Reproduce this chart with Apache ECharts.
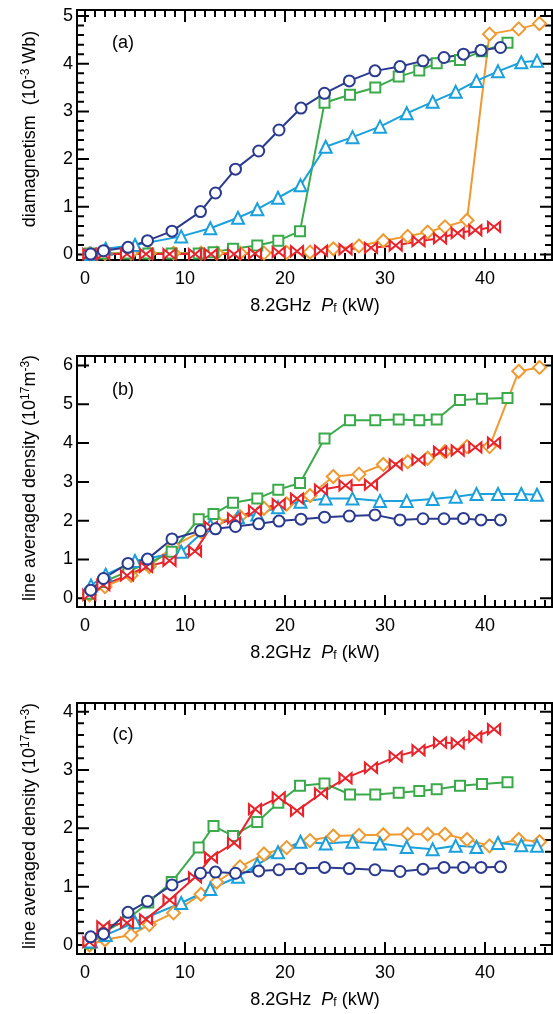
<!DOCTYPE html>
<html><head><meta charset="utf-8">
<script src="https://cdn.jsdelivr.net/npm/echarts@6/dist/echarts.min.js"></script>
<style>html,body{margin:0;padding:0;background:#fff}#c{width:553px;height:1014px}</style>
</head><body><div id="c"></div>
<script>
// ---------- data ----------
const xTickLabels = [0, 10, 20, 30, 40];
const yTicksA = [0, 1, 2, 3, 4, 5];
const yTicksB = [0, 1, 2, 3, 4, 5, 6];
const yTicksC = [0, 1, 2, 3, 4];

const navyX = [0.57,1.85,4.3,6.25,8.7,11.55,13.05,15.05,17.37,19.4,21.6,23.95,26.43,29.0,31.5,33.8,35.9,37.85,39.6,41.55];
const navyA = [0.01,0.08,0.15,0.29,0.49,0.90,1.29,1.79,2.17,2.61,3.07,3.38,3.64,3.85,3.94,4.06,4.13,4.20,4.28,4.34];
const navyB = [0.21,0.51,0.90,1.01,1.53,1.74,1.79,1.85,1.92,1.99,2.04,2.09,2.12,2.15,2.02,2.05,2.05,2.06,2.02,2.02];
const navyC = [0.14,0.19,0.56,0.75,1.03,1.23,1.25,1.23,1.27,1.29,1.31,1.33,1.31,1.29,1.26,1.30,1.33,1.33,1.33,1.34];

const greenX = [0.5,1.85,4.33,6.33,8.67,11.37,12.85,14.8,17.23,19.33,21.5,23.95,26.5,29.03,31.37,33.43,35.17,37.5,39.7,42.25];
const greenA = [0.02,0.02,0.02,0.02,0.02,0.02,0.05,0.12,0.19,0.29,0.49,3.18,3.35,3.50,3.73,3.86,4.01,4.08,4.26,4.44];
const greenB = [0.12,0.42,0.70,0.90,1.20,2.04,2.17,2.46,2.57,2.80,2.97,4.12,4.59,4.59,4.61,4.59,4.61,5.11,5.14,5.16];
const greenC = [0.03,0.22,0.45,0.73,1.08,1.67,2.04,1.87,2.11,2.44,2.73,2.77,2.58,2.58,2.61,2.64,2.67,2.73,2.76,2.79];

const cyanX = [0.6,2.07,5.0,9.62,12.53,15.3,17.23,19.3,21.55,24.07,26.75,29.5,32.17,34.77,37.07,39.15,41.3,43.63,45.2];
const cyanA = [0.01,0.12,0.20,0.38,0.55,0.77,0.95,1.19,1.45,2.26,2.46,2.68,2.96,3.20,3.41,3.64,3.84,4.03,4.06];
const cyanB = [0.33,0.61,0.96,1.20,1.88,2.09,2.16,2.35,2.49,2.57,2.57,2.51,2.51,2.56,2.62,2.69,2.69,2.69,2.67];
const cyanC = [0.06,0.17,0.39,0.72,0.96,1.17,1.38,1.59,1.77,1.74,1.77,1.74,1.68,1.64,1.70,1.68,1.75,1.71,1.70];

const orangeX = [0.45,2.0,4.6,6.43,8.85,11.6,13.17,15.5,17.9,20.17,22.5,24.83,27.4,29.83,32.27,34.27,36.0,38.2,40.45,43.37,45.45];
const orangeA = [0.02,0.02,0.03,0.03,0.03,0.03,0.03,0.03,0.03,0.04,0.05,0.12,0.18,0.29,0.38,0.47,0.58,0.72,4.62,4.73,4.84];
const orangeB = [0.09,0.30,0.59,0.82,1.35,1.72,1.98,2.11,2.32,2.43,2.65,3.14,3.20,3.45,3.52,3.61,3.78,3.91,3.91,5.85,5.95];
const orangeC = [0.0,0.09,0.17,0.35,0.55,0.87,1.08,1.34,1.56,1.67,1.79,1.87,1.88,1.89,1.90,1.90,1.90,1.81,1.70,1.81,1.77];

const redX = [0.43,1.83,4.2,6.1,8.45,11.0,12.6,14.9,17.0,19.37,21.2,23.6,26.05,28.6,31.07,33.35,35.5,37.27,39.03,40.9];
const redA = [0.01,0.01,0.01,0.01,0.01,0.01,0.01,0.01,0.02,0.05,0.07,0.08,0.11,0.14,0.19,0.28,0.34,0.45,0.51,0.58];
const redB = [0.09,0.34,0.59,0.81,0.97,1.21,1.84,2.06,2.26,2.43,2.57,2.80,2.91,2.93,3.45,3.57,3.78,3.81,3.89,4.01];
const redC = [0.05,0.32,0.38,0.44,0.77,1.16,1.50,1.75,2.33,2.53,2.30,2.60,2.86,3.04,3.23,3.34,3.47,3.46,3.57,3.70];

// ---------- styling / layout ----------
const FONT = '"Liberation Sans", Arial, sans-serif';
const COL = {navy:'#2a3a8f', green:'#3aaa4b', cyan:'#1aa0dc', orange:'#ef9a30', red:'#e8232b'};
const BOWTIE = 'path://M0,0L5,5L0,10ZM10,0L5,5L10,10Z';

const GRID_LEFT = 77, GRID_W = 475;
const grids = [
  {top: 10, height: 250, ymin: -0.115, ymax: 5.126, yMajor: yTicksA, yMinorStep: 0.2},
  {top: 356, height: 251, ymin: -0.224, ymax: 6.245, yMajor: yTicksB, yMinorStep: 0},
  {top: 703, height: 251, ymin: -0.154, ymax: 4.149, yMajor: yTicksC, yMinorStep: 0.2}
];
const XMIN = -0.8, XMAX = 46.7;
const TMAJ = 12, TMIN = 7;   // tick lengths in px

function stepList(a, b, step) { const r = []; for (let v = a; v <= b + 1e-9; v += step) r.push(+v.toFixed(4)); return r; }
function withoutMajor(arr, major) { return arr.filter(v => !major.some(m => Math.abs(m - v) < 1e-6)); }
const xMinorTicks = withoutMajor(stepList(0, 46, 1), xTickLabels);

const xAxes = [], yAxes = [], series = [];
grids.forEach((g, gi) => {
  xAxes.push({type: 'value', gridIndex: gi, min: XMIN, max: XMAX, position: 'bottom',
    splitLine: {show: false}, axisLine: {show: false}, axisTick: {show: false},
    axisLabel: {show: true, customValues: xTickLabels, fontSize: 18, color: '#000', fontFamily: FONT, margin: 10}});
  yAxes.push({type: 'value', gridIndex: gi, min: g.ymin, max: g.ymax, position: 'left',
    splitLine: {show: false}, axisLine: {show: false}, axisTick: {show: false},
    axisLabel: {show: true, customValues: g.yMajor, fontSize: 18, color: '#000', fontFamily: FONT, margin: 4}});

  // inward tick marks on all four sides, as short segments in data space
  const ux = (XMAX - XMIN) / GRID_W;            // data units per px (x)
  const uy = (g.ymax - g.ymin) / g.height;      // data units per px (y)
  const yMinor = g.yMinorStep ? withoutMajor(stepList(0, g.ymax, g.yMinorStep), g.yMajor) : [];
  const segs = [];
  const xt = xTickLabels.map(v => [v, TMAJ]).concat(xMinorTicks.map(v => [v, TMIN]));
  const yt = g.yMajor.map(v => [v, TMAJ]).concat(yMinor.map(v => [v, TMIN]));
  xt.forEach(([v, len]) => {
    segs.push([v, g.ymin], [v, g.ymin + len * uy], [v, '-']);
    segs.push([v, g.ymax], [v, g.ymax - len * uy], [v, '-']);
  });
  yt.forEach(([v, len]) => {
    segs.push([XMIN, v], [XMIN + len * ux, v], [XMIN, '-']);
    segs.push([XMAX, v], [XMAX - len * ux, v], [XMAX, '-']);
  });
  series.push({
    type: 'line', xAxisIndex: gi, yAxisIndex: gi, data: segs, symbol: 'none',
    connectNulls: false, clip: false, silent: true, z: 1,
    lineStyle: {color: '#000', width: 2, cap: 'butt'}, emphasis: {disabled: true}, animation: false
  });
});

function mk(xs, ys, gi, color, symbol, size) {
  return {
    type: 'line', xAxisIndex: gi, yAxisIndex: gi,
    data: xs.map((x, i) => [x, ys[i]]),
    symbol: symbol, symbolSize: size, showSymbol: true, z: 3,
    lineStyle: {color: color, width: 2},
    itemStyle: {color: '#fff', borderColor: color, borderWidth: 2},
    emphasis: {disabled: true}, animation: false
  };
}
const sets = [
  [orangeX, [orangeA, orangeB, orangeC], COL.orange, 'diamond', 13],
  [greenX, [greenA, greenB, greenC], COL.green, 'rect', 10],
  [cyanX, [cyanA, cyanB, cyanC], COL.cyan, 'triangle', 12],
  [redX, [redA, redB, redC], COL.red, BOWTIE, [12, 10]],
  [navyX, [navyA, navyB, navyC], COL.navy, 'circle', 11]
];
[0, 1, 2].forEach(gi => sets.forEach(s => series.push(mk(s[0], s[1][gi], gi, s[2], s[3], s[4]))));

const txt = (x, y, text, rich, rot) => ({
  type: 'text', x: x, y: y, rotation: rot || 0, z: 10,
  style: {text: text, rich: rich, font: '18px ' + FONT, fill: '#000', align: 'center', verticalAlign: 'middle'}
});
const richY = {
  n: {fontSize: 18, fontFamily: FONT, fill: '#000'},
  s: {fontSize: 12, fontFamily: FONT, fill: '#000', verticalAlign: 'bottom', padding: [0, 0, 9, 0]}
};
const richX = {
  n: {fontSize: 18, fontFamily: FONT, fill: '#000'},
  i: {fontSize: 18, fontFamily: FONT, fontStyle: 'italic', fill: '#000'},
  f: {fontSize: 12, fontFamily: FONT, fill: '#000', verticalAlign: 'bottom'}
};
const xTitle = '{n|8.2GHz  }{i|P}{f|f}{n| (kW)}';
const texts = [
  txt(315, 306, xTitle, richX), txt(315, 653, xTitle, richX), txt(315, 1000, xTitle, richX),
  txt(30, 129, '{n|diamagnetism  (10}{s|-3}{n| Wb)}', richY, Math.PI / 2),
  txt(30, 478, '{n|line averaged density (10}{s|17}{n|m}{s|-3}{n|)}', richY, Math.PI / 2),
  txt(30, 826, '{n|line averaged density (10}{s|17}{n|m}{s|-3}{n|)}', richY, Math.PI / 2),
  txt(123, 43, '(a)'), txt(123, 390, '(b)'), txt(123, 735, '(c)')
];

const chart = echarts.init(document.getElementById('c'));
chart.setOption({
  animation: false,
  backgroundColor: '#fff',
  grid: grids.map(g => ({left: GRID_LEFT, width: GRID_W, top: g.top, height: g.height,
    show: true, borderColor: '#000', borderWidth: 2})),
  xAxis: xAxes, yAxis: yAxes, series: series, graphic: texts
});
</script></body></html>
